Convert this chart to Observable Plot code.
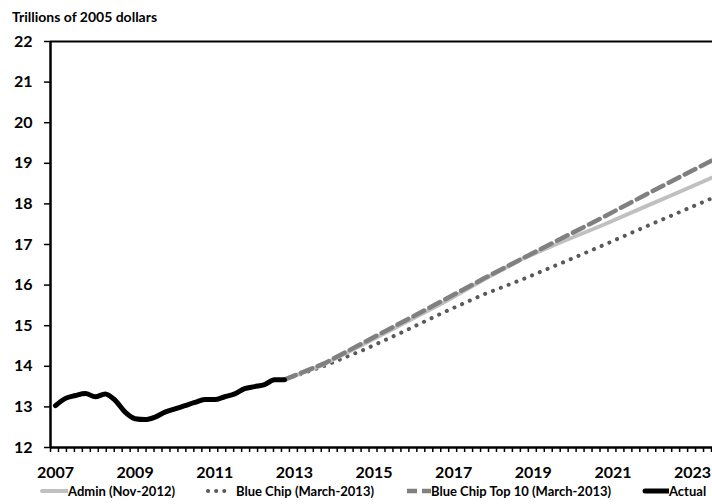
<!DOCTYPE html>
<html>
<head>
<meta charset="utf-8">
<script src="https://cdn.jsdelivr.net/npm/d3@7"></script>
<script src="https://cdn.jsdelivr.net/npm/@observablehq/plot@0.6"></script>
<style>
  html, body { margin: 0; padding: 0; background: #fff; }
  body { width: 712px; height: 504px; position: relative; overflow: hidden; font-family: Lato, "Open Sans", sans-serif; }
  #title { position: absolute; left: 12px; top: 8px; font-size: 14px; font-weight: bold; color: #000; }
  #chart { position: absolute; left: 0; top: 26px; }
  #chart text { font-weight: bold; }
  .lg { position: absolute; top: 483px; height: 16px; display: flex; align-items: center; font-size: 13px; font-weight: bold; color: #000; white-space: nowrap; }
  .lg svg { display: block; }
</style>
</head>
<body>
<div id="title">Trillions of 2005 dollars</div>
<div id="chart"></div>
<div class="lg" style="left:40px"><svg width="28" height="10"><line x1="2" x2="28" y1="5" y2="5" stroke="#c0c0c0" stroke-width="4" stroke-linecap="round"/></svg>Admin (Nov-2012)</div>
<div class="lg" style="left:205px"><svg width="31" height="10"><line x1="3" x2="26" y1="5" y2="5" stroke="#595959" stroke-width="4" stroke-linecap="round" stroke-dasharray="0.1 8"/></svg>Blue Chip (March-2013)</div>
<div class="lg" style="left:405px"><svg width="26" height="10"><line x1="2" x2="26" y1="5" y2="5" stroke="#808080" stroke-width="4.5" stroke-dasharray="10 5"/></svg>Blue Chip Top 10 (March-2013)</div>
<div class="lg" style="left:642px"><svg width="27" height="10"><line x1="3" x2="27" y1="5" y2="5" stroke="#000" stroke-width="5" stroke-linecap="round"/></svg>Actual</div>
<script>
// Actual real GDP, quarterly 2007Q1 - 2012Q4 (trillions of 2005 dollars)
const actualStart = 2007;
const actualValues = [13.03, 13.21, 13.28, 13.33, 13.25, 13.32, 13.16, 12.87,
                      12.71, 12.69, 12.75, 12.87, 12.95, 13.03, 13.11, 13.18,
                      13.18, 13.25, 13.32, 13.45, 13.50, 13.55, 13.67, 13.67];
// Projection points (year fraction, Q4 of each year)
const projYears = [2012.75, 2013.75, 2014.75, 2015.75, 2016.75, 2017.75, 2018.75, 2019.75, 2020.75, 2021.75, 2022.75, 2023.75];
const adminValues = [13.67, 14.05, 14.55, 15.06, 15.57, 16.13, 16.66, 17.08, 17.48, 17.91, 18.33, 18.76];
const blueChipValues = [13.67, 14.01, 14.41, 14.86, 15.33, 15.77, 16.15, 16.56, 16.98, 17.41, 17.83, 18.25];
const top10Values = [13.67, 14.07, 14.59, 15.11, 15.63, 16.16, 16.67, 17.17, 17.67, 18.19, 18.70, 19.20];
const yTicks = [12, 13, 14, 15, 16, 17, 18, 19, 20, 21, 22];
const xTickLabels = [2007, 2009, 2011, 2013, 2015, 2017, 2019, 2021, 2023];

const xMin = 2006.875, xMax = 2023.5;
const actual = actualValues.map((v, i) => ({t: actualStart + i / 4, v}));
const admin = projYears.map((t, i) => ({t, v: adminValues[i]}));
const blueChip = projYears.map((t, i) => ({t, v: blueChipValues[i]}));
const top10 = projYears.map((t, i) => ({t, v: top10Values[i]}));
const minorTicks = d3.range(0, 84).map(i => xMin + i * 0.2).filter(t => t <= xMax);

const chart = Plot.plot({
  width: 712,
  height: 462,
  marginTop: 15,
  marginBottom: 41,
  marginLeft: 50,
  marginRight: 0,
  style: {fontFamily: "Lato, 'Open Sans', sans-serif", color: "#000", background: "transparent"},
  x: {domain: [xMin, xMax]},
  y: {domain: [12, 22]},
  marks: [
    Plot.axisY({ticks: yTicks, tickSize: 6, tickPadding: 12, fontSize: 16, fontWeight: "bold", label: null, tickFormat: d => String(d), strokeWidth: 1.5}),
    Plot.axisX({ticks: minorTicks, tickSize: 5, tickFormat: () => "", label: null, strokeWidth: 1.5}),
    Plot.axisX({ticks: xTickLabels, tickSize: 0, tickPadding: 19, fontSize: 16, fontWeight: "bold", label: null, tickFormat: d => String(d)}),
    Plot.lineY(blueChip, {x: "t", y: "v", stroke: "#595959", strokeWidth: 4, strokeLinecap: "round", strokeDasharray: "0.1 8.3", clip: true}),
    Plot.lineY(admin, {x: "t", y: "v", stroke: "#c0c0c0", strokeWidth: 4, clip: true}),
    Plot.lineY(top10, {x: "t", y: "v", stroke: "#808080", strokeWidth: 4.5, strokeDasharray: "12 6", clip: true}),
    Plot.lineY(actual, {x: "t", y: "v", stroke: "#000", strokeWidth: 5, strokeLinecap: "round", strokeLinejoin: "round", curve: "monotone-x"}),
    Plot.ruleY([22], {stroke: "#000", strokeWidth: 2}),
    Plot.ruleY([12], {stroke: "#000", strokeWidth: 2.5}),
    Plot.ruleX([xMin], {stroke: "#000", strokeWidth: 2.5})
  ]
});
document.getElementById("chart").appendChild(chart);
</script>
</body>
</html>
